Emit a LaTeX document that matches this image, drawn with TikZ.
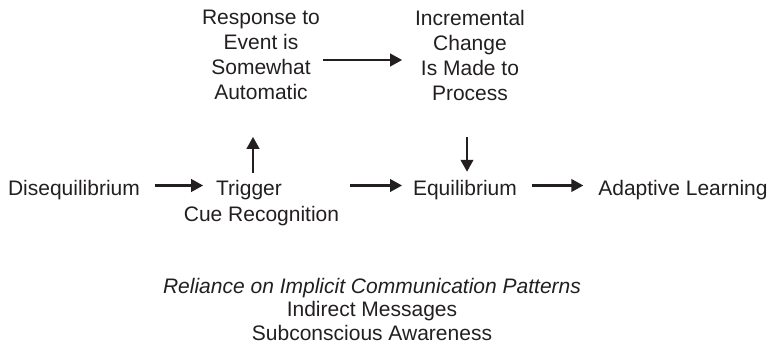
\documentclass[tikz,border=0pt]{standalone}
\usepackage{fontspec}
\setmainfont{Liberation Sans}
\usetikzlibrary{arrows.meta}
\definecolor{ink}{RGB}{35,31,32}
\begin{document}
\begin{tikzpicture}[x=1pt,y=-1pt,
  lbl/.style={inner sep=0pt,outer sep=0pt,text=ink,font=\fontsize{21}{25}\selectfont},
  multi/.style={lbl,align=center},
  arr/.style={draw=ink,line width=2.4pt,-{Triangle[length=12pt,width=12.5pt]}}]
\useasboundingbox (0,0) rectangle (772,355);
% guide coordinates
\coordinate (row) at (0,185.5);
\coordinate (rowtop) at (0,60);
\coordinate (upx) at (253,0);
\coordinate (downx) at (467,0);
% nodes
\node[lbl,anchor=base] (dis) at (74,196) {Disequilibrium};
\node[lbl,anchor=base] (trig) at (249,196) {Trigger};
\node[lbl,anchor=base] (cue) at (261.5,222) {Cue Recognition};
\node[lbl,anchor=base] (eq) at (465,196) {Equilibrium};
\node[lbl,anchor=base] (adapt) at (683,196) {Adaptive Learning};
\node[multi] (resp) at (261,55) {Response to\\Event is\\Somewhat\\Automatic};
\node[multi] (incr) at (470,55) {Incremental\\Change\\Is Made to\\Process};
\node[multi] (note) at (372,309) {\itshape Reliance on Implicit Communication Patterns\\[-1.5pt]Indirect Messages\\[-1.5pt]Subconscious Awareness};
% connectors
\draw[arr,shorten <=15pt,shorten >=13pt] (dis.east |- row) -- (trig.west |- row);
\draw[arr,shorten <=8pt,shorten >=37pt] (trig.north -| upx) -- (resp.south -| upx);
\draw[arr,shorten <=3pt,shorten >=13pt] (resp.east |- rowtop) -- (incr.west |- rowtop);
\draw[arr,shorten <=37pt,shorten >=9pt] (incr.south -| downx) -- (eq.north -| downx);
\draw[arr,shorten <=11pt,shorten >=11pt] (cue.east |- row) -- (eq.west |- row);
\draw[arr,shorten <=15pt,shorten >=15pt] (eq.east |- row) -- (adapt.west |- row);
\end{tikzpicture}
\end{document}
